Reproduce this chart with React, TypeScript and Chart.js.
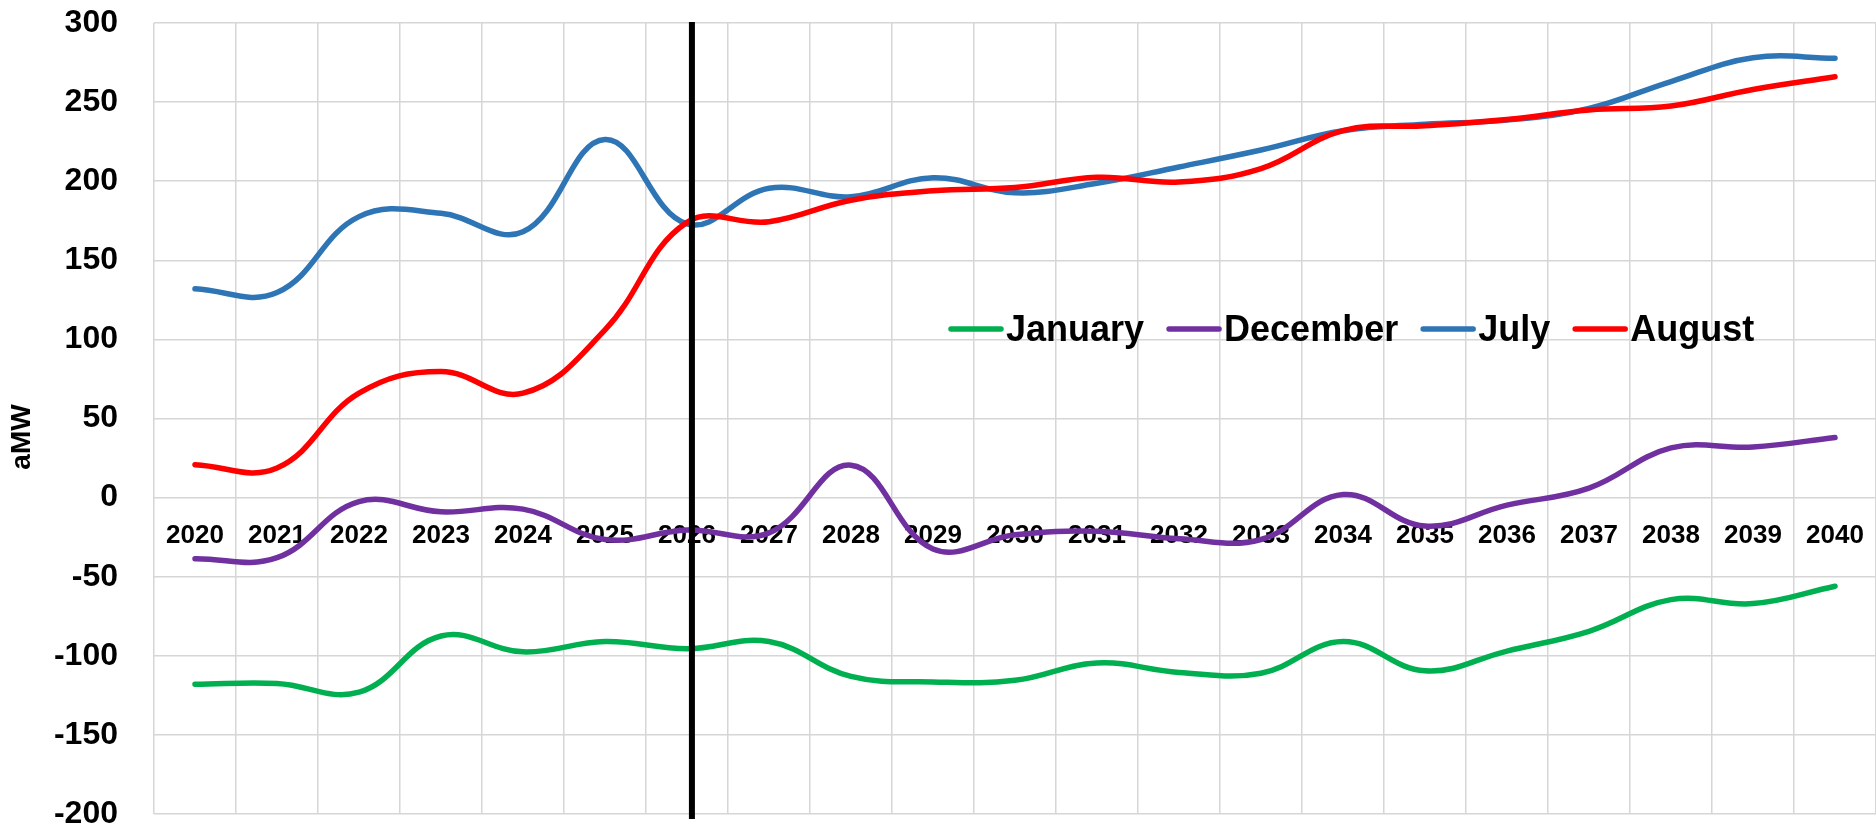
import React, { useEffect, useRef } from 'react';
import { Chart, registerables } from 'chart.js';

Chart.register(...registerables);

const years = ['2020', '2021', '2022', '2023', '2024', '2025', '2026', '2027', '2028', '2029', '2030',
  '2031', '2032', '2033', '2034', '2035', '2036', '2037', '2038', '2039', '2040'];

const january = [-118, -117.5, -123, -87.5, -97.5, -91, -95.5, -91, -113, -116.5, -115.5,
  -104.5, -110.5, -111, -91, -109.5, -97, -84.5, -64.5, -67, -56];
const december = [-38.6, -38, -2.5, -9, -7.3, -26.5, -20.5, -22.3, 20.5, -32.5, -23.5,
  -21.3, -26, -26.5, 1.9, -18, -4.8, 6, 31.4, 32, 38];
const july = [132, 129.6, 177.6, 179.7, 168, 226.4, 173, 195.5, 190.2, 202.2, 192.7,
  198.7, 209, 219.7, 231.9, 236, 238.6, 246, 263, 278, 277.7];
const august = [20.8, 18.7, 66, 79.7, 66, 106, 174, 174.4, 188, 194, 196,
  202.5, 199.5, 208, 232, 235, 239, 245, 247.5, 258, 266];

const seriesNames = ['January', 'December', 'July', 'August'];
const seriesColors = ['#00B050', '#7030A0', '#2E75B6', '#FF0000'];

const yMin = -200;
const yMax = 300;
const yStep = 50;
const yTitle = 'aMW';
// vertical marker, in category units (2026 is index 6)
const markerPosition = 6.06;

const FONT = "'Liberation Sans', Arial, sans-serif";
const GRID = '#D6D6D6';

const overlayPlugin = {
  id: 'overlay',
  afterDatasetsDraw(chart: any) {
    const { ctx, chartArea, scales } = chart;
    const x = scales.x.getPixelForValue(markerPosition);
    ctx.save();
    ctx.strokeStyle = '#000000';
    ctx.lineWidth = 6;
    ctx.beginPath();
    ctx.moveTo(x, chartArea.top - 1);
    ctx.lineTo(x, chartArea.bottom + 5);
    ctx.stroke();
    ctx.restore();
  },
  afterDraw(chart: any) {
    const { ctx } = chart;
    // legend
    ctx.save();
    ctx.font = `bold 36px ${FONT}`;
    ctx.textBaseline = 'alphabetic';
    ctx.textAlign = 'left';
    let x = 948;
    const yLine = 329;
    const yText = 341;
    chart.data.datasets.forEach((ds: any) => {
      ctx.strokeStyle = ds.borderColor;
      ctx.lineWidth = 5.5;
      ctx.lineCap = 'round';
      ctx.beginPath();
      ctx.moveTo(x + 3, yLine);
      ctx.lineTo(x + 53, yLine);
      ctx.stroke();
      x += 58;
      ctx.fillStyle = '#000000';
      ctx.fillText(ds.label, x, yText);
      x += ctx.measureText(ds.label).width + 22;
    });
    // axis title
    ctx.translate(22, 437);
    ctx.rotate(-Math.PI / 2);
    ctx.textAlign = 'center';
    ctx.textBaseline = 'middle';
    ctx.font = `bold 28px ${FONT}`;
    ctx.fillText(yTitle, 0, 0);
    ctx.restore();
  },
};

export default function App() {
  const ref = useRef<HTMLCanvasElement>(null);

  useEffect(() => {
    document.body.style.margin = '0';
    const values = [january, december, july, august];
    const chart = new Chart(ref.current as HTMLCanvasElement, {
      type: 'line',
      data: {
        labels: years,
        datasets: seriesNames.map((name, i) => ({
          label: name,
          data: values[i],
          borderColor: seriesColors[i],
          backgroundColor: seriesColors[i],
          borderWidth: 5.5,
          pointRadius: 0,
          pointHoverRadius: 0,
          tension: 0.4,
          borderCapStyle: 'round',
          borderJoinStyle: 'round',
          fill: false,
          order: 4 - i,
        })),
      },
      options: {
        responsive: false,
        animation: false,
        devicePixelRatio: 1,
        layout: { padding: { left: 0, right: 0, top: 23, bottom: 16 } },
        plugins: {
          legend: { display: false },
          tooltip: { enabled: false },
          title: { display: false },
        },
        scales: {
          x: {
            type: 'category',
            position: { y: 0 },
            offset: true,
            grid: { offset: true, color: GRID, lineWidth: 1.5, drawTicks: false },
            border: { display: false },
            ticks: {
              color: '#000000',
              font: { family: FONT, size: 26, weight: 'bold' },
              padding: 23,
              maxRotation: 0,
              autoSkip: false,
            },
            afterFit: (scale: any) => {
              scale.paddingLeft = 0;
              scale.paddingRight = 0;
            },
          },
          y: {
            min: yMin,
            max: yMax,
            position: 'left',
            grid: { color: GRID, lineWidth: 1.5, drawTicks: false },
            border: { display: false },
            ticks: {
              stepSize: yStep,
              color: '#000000',
              font: { family: FONT, size: 32, weight: 'bold', lineHeight: 1 },
              padding: 36,
            },
            afterFit: (scale: any) => {
              scale.width = 154;
              scale.paddingTop = 0;
              scale.paddingBottom = 0;
            },
          },
        },
      },
      plugins: [overlayPlugin],
    } as any);
    return () => chart.destroy();
  }, []);

  return (
    <div style={{ width: 1876, height: 830 }}>
      <canvas ref={ref} width={1876} height={830} style={{ display: 'block' }} />
    </div>
  );
}
